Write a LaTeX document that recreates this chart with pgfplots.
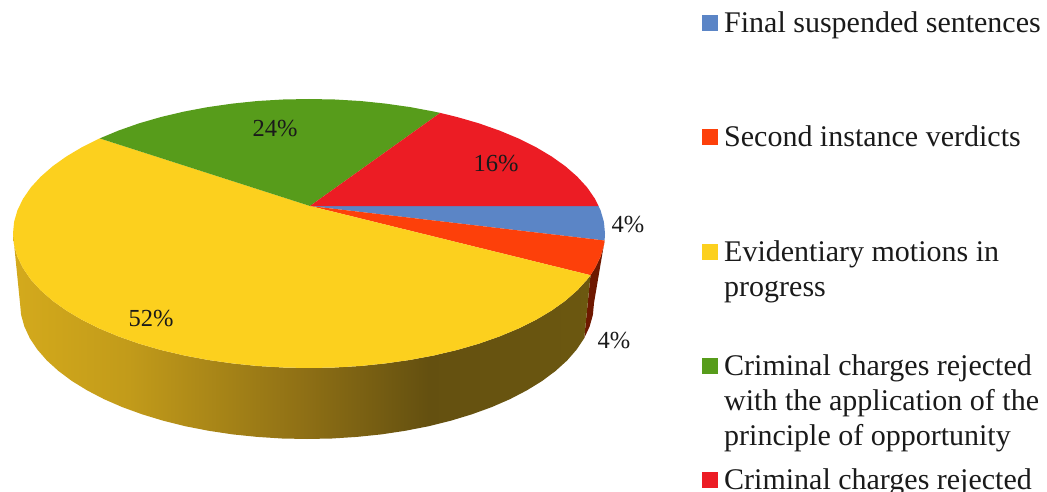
\documentclass[border=0pt]{standalone}
\usepackage{fontspec}
\setmainfont{Liberation Serif}
\usepackage{pgfplots}
\pgfplotsset{compat=1.18}
\definecolor{sliceblue}{HTML}{5B85C6}
\definecolor{sliceorange}{HTML}{FD400A}
\definecolor{sliceyellow}{HTML}{FCD01E}
\definecolor{slicegreen}{HTML}{579C1B}
\definecolor{slicered}{HTML}{EC1C24}
\definecolor{rimred}{HTML}{6E1800}
\definecolor{labelink}{HTML}{1A1A1A}
\definecolor{rima}{HTML}{D4AA1C}
\definecolor{rimb}{HTML}{C29B1A}
\definecolor{rimc}{HTML}{8F7015}
\definecolor{rimd}{HTML}{645010}
\definecolor{rime}{HTML}{6C5810}
% rim of the largest slice, lit from the left
\pgfdeclarehorizontalshading{yellowrim}{100bp}{
  color(0bp)=(rima); color(25bp)=(rima); color(35bp)=(rimb);
  color(50bp)=(rimc); color(61bp)=(rimd); color(75bp)=(rime); color(100bp)=(rime)}
\begin{document}
\begin{tikzpicture}
\clip[use as bounding box] (0,0) rectangle (1047pt,492pt);
\begin{axis}[
  at={(0,0)}, anchor=south west,
  scale only axis, width=1047pt, height=492pt,
  xmin=0, xmax=1047, ymin=0, ymax=492, y dir=reverse,
  hide axis, clip=false,
  nodes={font=\fontsize{24.5}{28}\selectfont, text=labelink, inner sep=0pt},
]
% outer rim: Second instance verdicts
\addplot[fill=rimred, draw=none] coordinates {
  (590.5,275.2)(594.9,268.3)(600.5,256.9)(603.9,245.2)(604.6,240.5)
  (594,303)(592.9,314.9)(589.6,326.6)(584.2,338.2)};
% outer rim: Evidentiary motions in progress
\addplot[shade, shading=yellowrim, shading angle=0, draw=none] coordinates {
  (13,233.5)(14.1,245.2)(17.5,256.9)(23.1,268.3)(30.8,279.5)(40.7,290.3)
  (52.7,300.8)(66.5,310.6)(82.3,320.0)(99.7,328.6)(118.7,336.5)(139.2,343.7)
  (161.0,350.0)(183.9,355.4)(207.8,359.9)(232.4,363.4)(257.6,366.0)(283.2,367.5)
  (309,368)(334.8,367.5)(360.4,366.0)(385.6,363.4)(410.2,359.9)(434.1,355.4)
  (457.0,350.0)(478.8,343.7)(499.3,336.5)(518.3,328.6)(535.7,320.0)(551.5,310.6)
  (565.3,300.8)(577.3,290.3)(587.2,279.5)(590.5,275.2)
  (584.2,338.2)(576.7,349.5)(567.1,360.5)(555.5,371.0)(542.1,381.0)(526.8,390.4)
  (509.9,399.2)(491.5,407.2)(471.6,414.4)(450.5,420.8)(428.3,426.3)(405.2,430.8)
  (381.3,434.4)(356.8,436.9)(332,438.5)(307,439)(282,438.5)(257.2,436.9)
  (232.7,434.4)(208.8,430.8)(185.7,426.3)(163.5,420.8)(142.4,414.4)(122.5,407.2)
  (104.1,399.2)(87.2,390.4)(71.9,381.0)(58.5,371.0)(46.9,360.5)(37.3,349.5)
  (29.8,338.2)(24.4,326.6)(21.1,314.9)(20,303)};
% top face: Final suspended sentences, 4%
\addplot[fill=sliceblue, draw=none] coordinates {
  (310,206)(598.5,206)(600.5,210.1)(603.9,221.8)(605,233.5)(604.6,240.5)};
% top face: Second instance verdicts, 4%
\addplot[fill=sliceorange, draw=none] coordinates {
  (310,206)(604.6,240.5)(603.9,245.2)(600.5,256.9)(594.9,268.3)(590.5,275.2)};
% top face: Evidentiary motions in progress, 52%
\addplot[fill=sliceyellow, draw=none] coordinates {
  (310,206)(590.5,275.2)(587.2,279.5)(577.3,290.3)(565.3,300.8)(551.5,310.6)
  (535.7,320.0)(518.3,328.6)(499.3,336.5)(478.8,343.7)(457.0,350.0)(434.1,355.4)
  (410.2,359.9)(385.6,363.4)(360.4,366.0)(334.8,367.5)(309,368)(283.2,367.5)
  (257.6,366.0)(232.4,363.4)(207.8,359.9)(183.9,355.4)(161.0,350.0)(139.2,343.7)
  (118.7,336.5)(99.7,328.6)(82.3,320.0)(66.5,310.6)(52.7,300.8)(40.7,290.3)
  (30.8,279.5)(23.1,268.3)(17.5,256.9)(14.1,245.2)(13,233.5)(14.1,221.8)
  (17.5,210.1)(23.1,198.7)(30.8,187.5)(40.7,176.7)(52.7,166.2)(66.5,156.4)
  (82.3,147.0)(99.7,138.4)};
% top face: charges rejected with the principle of opportunity, 24%
\addplot[fill=slicegreen, draw=none] coordinates {
  (310,206)(99.7,138.4)(118.7,130.5)(139.2,123.3)(161.0,117.0)(183.9,111.6)
  (207.8,107.1)(232.4,103.6)(257.6,101.0)(283.2,99.5)(309,99)(334.8,99.5)
  (360.4,101.0)(385.6,103.6)(410.2,107.1)(434.1,111.6)(440.2,112.9)};
% top face: charges rejected, 16%
\addplot[fill=slicered, draw=none] coordinates {
  (310,206)(440.2,112.9)(457.0,117.0)(478.8,123.3)(499.3,130.5)(518.3,138.4)
  (535.7,147.0)(551.5,156.4)(565.3,166.2)(577.3,176.7)(587.2,187.5)(594.9,198.7)
  (598.5,206)};
% legend swatches
\addplot[only marks, mark=square*, mark size=7.5pt, color=sliceblue] coordinates {(710,22.5)};
\addplot[only marks, mark=square*, mark size=7.5pt, color=sliceorange] coordinates {(710,137)};
\addplot[only marks, mark=square*, mark size=7.5pt, color=sliceyellow] coordinates {(710,251.5)};
\addplot[only marks, mark=square*, mark size=7.5pt, color=slicegreen] coordinates {(710,365.5)};
\addplot[only marks, mark=square*, mark size=7.5pt, color=slicered] coordinates {(710,480)};
% slice percentages
\node at (axis cs:275,129) {24\%};
\node at (axis cs:496,164) {16\%};
\node at (axis cs:628,225) {4\%};
\node at (axis cs:614,341) {4\%};
\node at (axis cs:151,319) {52\%};
% legend text
\begin{scope}[every node/.append style={anchor=base west, font=\fontsize{30}{35}\selectfont}]
\node at (axis cs:724,33) {Final suspended sentences};
\node at (axis cs:724,147) {Second instance verdicts};
\node at (axis cs:724,261) {Evidentiary motions in};
\node at (axis cs:724,296) {progress};
\node at (axis cs:724,375) {Criminal charges rejected};
\node at (axis cs:724,410) {with the application of the};
\node at (axis cs:724,445) {principle of opportunity};
\node at (axis cs:724,489) {Criminal charges rejected};
\end{scope}
\end{axis}
\end{tikzpicture}
\end{document}
